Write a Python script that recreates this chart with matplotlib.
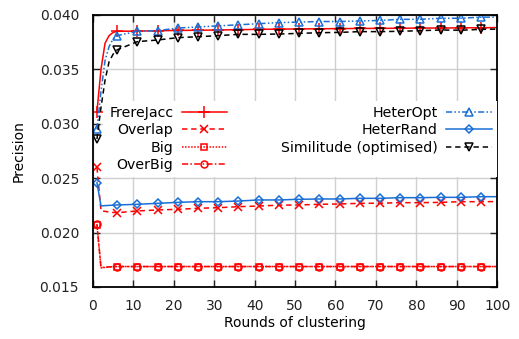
import numpy as np
import matplotlib
matplotlib.use('Agg')
import matplotlib.pyplot as plt

# rounds where values were read; markers sit on 1, 6, 11, ... 96
rounds = [1, 2, 3, 4, 5, 6, 11, 16, 21, 26, 31, 36, 41, 46, 51, 56, 61, 66, 71, 76, 81, 86, 91, 96, 100]
marks = [0] + list(range(5, 24))

frerejacc = [0.0311, 0.0350, 0.0374, 0.0381, 0.0384, 0.0385, 0.03852, 0.03855, 0.03858, 0.0386,
             0.03862, 0.03865, 0.03868, 0.0387, 0.03872, 0.03873, 0.03875, 0.03876, 0.03877, 0.03878,
             0.0388, 0.0388, 0.03882, 0.03883, 0.03884]
overlap = [0.0260, 0.0220, 0.02195, 0.0219, 0.02185, 0.02183, 0.02199, 0.02208, 0.02214, 0.02223,
           0.02229, 0.02238, 0.02244, 0.02252, 0.02254, 0.0226, 0.02263, 0.02269, 0.0227, 0.02275,
           0.02275, 0.02278, 0.02284, 0.02284, 0.02285]
big = [0.0207, 0.01675, 0.0168, 0.01685, 0.01687, 0.01688, 0.01688, 0.01688, 0.01688, 0.01688,
       0.01688, 0.01688, 0.01688, 0.01688, 0.01688, 0.01688, 0.01688, 0.01688, 0.01688, 0.01688,
       0.01688, 0.01688, 0.01688, 0.01688, 0.01688]
overbig = [0.0208, 0.0168, 0.0168, 0.01685, 0.01687, 0.01688, 0.01688, 0.01688, 0.01688, 0.01688,
           0.01688, 0.01688, 0.01688, 0.01688, 0.01688, 0.01688, 0.01688, 0.01688, 0.01688, 0.01688,
           0.01688, 0.01688, 0.01688, 0.01688, 0.01688]
heteropt = [0.0295, 0.0330, 0.0358, 0.0371, 0.0378, 0.0381, 0.0385, 0.03856, 0.0388, 0.0389,
            0.0390, 0.0391, 0.0392, 0.0393, 0.03935, 0.0394, 0.0394, 0.03945, 0.0395, 0.0396,
            0.0396, 0.0397, 0.0397, 0.0398, 0.0398]
heterrand = [0.0246, 0.02245, 0.02248, 0.0225, 0.02252, 0.02254, 0.0226, 0.02269, 0.02278, 0.02284,
             0.02284, 0.0229, 0.023, 0.023, 0.02306, 0.02309, 0.02309, 0.02315, 0.02315, 0.02321,
             0.02321, 0.02324, 0.02324, 0.0233, 0.0233]
similitude = [0.0286, 0.0315, 0.0340, 0.0357, 0.0364, 0.0368, 0.03755, 0.0377, 0.03792, 0.038,
              0.0381, 0.03822, 0.03822, 0.03825, 0.03831, 0.03837, 0.0384, 0.03847, 0.03847, 0.0385,
              0.03856, 0.03862, 0.0386, 0.03868, 0.0387]

red = '#ff0000'
blue = '#1a6fd6'

plt.rcParams['font.family'] = ['DejaVu Sans']
plt.rcParams['font.size'] = 10

fig = plt.figure(figsize=(5.19, 3.39), dpi=100)
ax = fig.add_axes([0.179, 0.1534, 0.779, 0.8024])

ms = 5
lw = 1.1
ax.plot(rounds, frerejacc, color=red, lw=lw, ls='-', marker='+', ms=8, mew=1.1, markevery=marks, label='FrereJacc')
ax.plot(rounds, overlap, color=red, lw=lw, ls=(0, (3.5, 2.5)), marker='x', ms=ms + 1, mew=1.1, markevery=marks, label='Overlap')
ax.plot(rounds, big, color=red, lw=lw, ls=(0, (1, 1)), marker='s', ms=ms, mew=1.1, mfc='none', markevery=marks, label='Big')
ax.plot(rounds, overbig, color=red, lw=lw, ls=(0, (4, 1.5, 1, 1.5)), marker='o', ms=ms, mew=1.1, mfc='none', markevery=marks, label='OverBig')
ax.plot(rounds, heteropt, color=blue, lw=lw, ls=(0, (4, 1.5, 1, 1.5, 1, 1.5)), marker='^', ms=ms + 1, mew=1.1, mfc='none', markevery=marks, label='HeterOpt')
ax.plot(rounds, heterrand, color=blue, lw=lw, ls='-', marker='D', ms=4, mew=1.1, mfc='none', markevery=marks, label='HeterRand')
ax.plot(rounds, similitude, color='black', lw=lw, ls=(0, (3.5, 2.5)), marker='v', ms=ms + 1, mew=1.1, mfc='none', markevery=marks, label='Similitude (optimised)')

ax.set_xlim(0, 100)
ax.set_ylim(0.015, 0.040)
ax.set_xticks(np.arange(0, 101, 10))
ax.set_yticks([0.015, 0.020, 0.025, 0.030, 0.035, 0.040])
ax.set_yticklabels(['0.015', '0.020', '0.025', '0.030', '0.035', '0.040'])
ax.grid(True, color='#d0d0d0', lw=1.0)
ax.set_axisbelow(True)
ax.tick_params(direction='in', length=5, width=1, top=True, right=True, colors='#222222', labelcolor='#222222')
ax.tick_params(axis='y', pad=10)
ax.tick_params(axis='x', pad=9)
for s in ax.spines.values():
    s.set_linewidth(1.3)
    s.set_color('black')

ax.set_xlabel('Rounds of clustering', labelpad=2)
ax.set_ylabel('Precision', labelpad=10)

leg = ax.legend(ncol=2, markerfirst=False, loc='upper right', bbox_to_anchor=(1.0, 0.685),
                borderaxespad=0, borderpad=0.4, handlelength=3.2, handletextpad=0.6,
                columnspacing=3.8, labelspacing=0.22, frameon=True, fancybox=False,
                fontsize=10.2)
leg.get_frame().set_facecolor('white')
leg.get_frame().set_edgecolor('none')
leg.get_frame().set_alpha(1)

fig.savefig('out.png', dpi=100)
